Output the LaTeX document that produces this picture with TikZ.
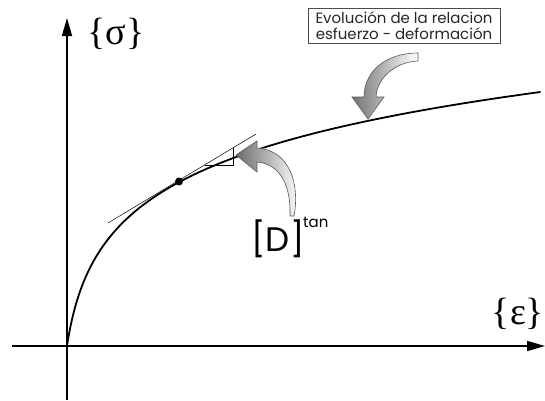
\documentclass[tikz,border=0pt]{standalone}
\usepackage{fontspec}
\setmainfont{Poppins}
\newfontfamily\serifgr{Liberation Serif}
\usetikzlibrary{arrows.meta}
\begin{document}
\begin{tikzpicture}[x=1pt,y=-1pt,
  axis/.style={line width=1.6pt,-{Triangle[length=18pt,width=10pt]}},
  curve/.style={line width=1.8pt,line cap=round},
  thinline/.style={line width=0.5pt},
  blockarrow/.style={draw=gray!70!black,line width=0.6pt},
  greek/.style={font=\serifgr\fontsize{38}{40}\selectfont,inner sep=0pt},
  caption/.style={draw=gray!60!black,line width=0.8pt,align=center,inner sep=0pt,
    minimum width=192pt,minimum height=35pt,font=\fontsize{15}{16.5}\selectfont,text=black!85}]
\useasboundingbox (0,0) rectangle (545,400);
\coordinate (O) at (67,346);
\coordinate (ytop) at (67,18);
\coordinate (ybot) at (67,400);
\coordinate (xleft) at (12,346);
\coordinate (xright) at (545,346);
\draw[line width=1.6pt] (O) -- (ybot);
\draw[axis] (O) -- (ytop);
\draw[line width=1.6pt] (xleft) -- (O);
\draw[axis] (O) -- (xright);
\node[greek] (sig) at (116,34) {\{σ\}};
\node[greek] (eps) at (518,314) {\{ε\}};
% curve
\draw[curve] plot[domain=0:473,samples=240,smooth] ({67+\x},{346-65.5*ln(1+\x/10)});
% tangent
\coordinate (t1) at (108,223);
\coordinate (t2) at (256,134);
\draw[thinline] (t1) -- (t2);
\coordinate (a1) at (205,165);
\coordinate (a2) at (233,165);
\coordinate (a3) at (233,148);
\draw[thinline] (a1) -- (a2) -- (a3);
\node[circle,fill=black,inner sep=0pt,minimum size=8pt] (dot) at (179,181.5) {};
% caption
\node[caption] (cap) at (404,25.5) {Evolución de la relacion\\esfuerzo - deformación};
% arrow 1
\shadedraw[blockarrow,left color=gray!90!black,right color=white]
  (418,53) .. controls (385,53) and (364,72) .. (364,97)
  -- (352,97) -- (368,119) -- (384,97) -- (376,97)
  .. controls (377,78) and (395,62) .. (418,61) -- cycle;
% arrow 2
\shadedraw[blockarrow,left color=gray!85!black,right color=white]
  (294,216) .. controls (300,185) and (290,150) .. (257,148)
  -- (257,141) -- (236,155) -- (257,172) -- (257,162)
  .. controls (280,164) and (291,185) .. (290,216) -- cycle;
% D tan
\node[inner sep=0pt,font=\fontsize{34}{36}\selectfont] (D) at (278,239) {[D]};
\node[inner sep=0pt,font=\fontsize{15}{16}\selectfont,anchor=west] (tan) at (303,222) {tan};
\end{tikzpicture}
\end{document}
